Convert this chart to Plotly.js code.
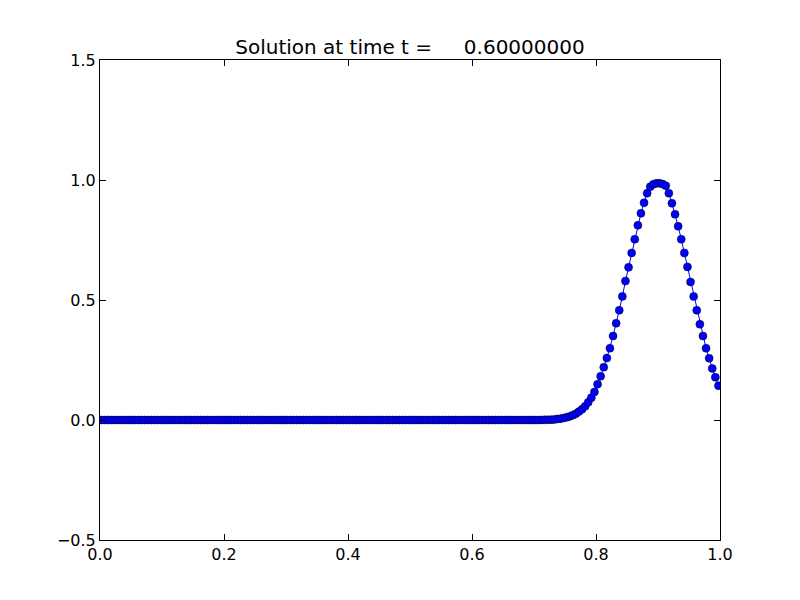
<!DOCTYPE html>
<html>
<head>
<meta charset="utf-8">
<script src="https://cdn.plot.ly/plotly-3.0.1.min.js"></script>
<style>html,body{margin:0;padding:0;background:#fff;}#chart{width:800px;height:600px;}</style>
</head>
<body>
<div id="chart"></div>
<script>
var xValues = [
0.0025,0.0075,0.0125,0.0175,0.0225,0.0275,0.0325,0.0375,0.0425,0.0475,
0.0525,0.0575,0.0625,0.0675,0.0725,0.0775,0.0825,0.0875,0.0925,0.0975,
0.1025,0.1075,0.1125,0.1175,0.1225,0.1275,0.1325,0.1375,0.1425,0.1475,
0.1525,0.1575,0.1625,0.1675,0.1725,0.1775,0.1825,0.1875,0.1925,0.1975,
0.2025,0.2075,0.2125,0.2175,0.2225,0.2275,0.2325,0.2375,0.2425,0.2475,
0.2525,0.2575,0.2625,0.2675,0.2725,0.2775,0.2825,0.2875,0.2925,0.2975,
0.3025,0.3075,0.3125,0.3175,0.3225,0.3275,0.3325,0.3375,0.3425,0.3475,
0.3525,0.3575,0.3625,0.3675,0.3725,0.3775,0.3825,0.3875,0.3925,0.3975,
0.4025,0.4075,0.4125,0.4175,0.4225,0.4275,0.4325,0.4375,0.4425,0.4475,
0.4525,0.4575,0.4625,0.4675,0.4725,0.4775,0.4825,0.4875,0.4925,0.4975,
0.5025,0.5075,0.5125,0.5175,0.5225,0.5275,0.5325,0.5375,0.5425,0.5475,
0.5525,0.5575,0.5625,0.5675,0.5725,0.5775,0.5825,0.5875,0.5925,0.5975,
0.6025,0.6075,0.6125,0.6175,0.6225,0.6275,0.6325,0.6375,0.6425,0.6475,
0.6525,0.6575,0.6625,0.6675,0.6725,0.6775,0.6825,0.6875,0.6925,0.6975,
0.7025,0.7075,0.7125,0.7175,0.7225,0.7275,0.7325,0.7375,0.7425,0.7475,
0.7525,0.7575,0.7625,0.7675,0.7725,0.7775,0.7825,0.7875,0.7925,0.7975,
0.8025,0.8075,0.8125,0.8175,0.8225,0.8275,0.8325,0.8375,0.8425,0.8475,
0.8525,0.8575,0.8625,0.8675,0.8725,0.8775,0.8825,0.8875,0.8925,0.8975,
0.9025,0.9075,0.9125,0.9175,0.9225,0.9275,0.9325,0.9375,0.9425,0.9475,
0.9525,0.9575,0.9625,0.9675,0.9725,0.9775,0.9825,0.9875,0.9925,0.9975
];

var qValues = [
0,0,0,0,0,0,0,0,0,0,
0,0,0,0,0,0,0,0,0,0,
0,0,0,0,0,0,0,0,0,0,
0,0,0,0,0,0,0,0,0,0,
0,0,0,0,0,0,0,0,0,0,
0,0,0,0,0,0,0,0,0,0,
0,0,0,0,0,0,0,0,0,0,
0,0,0,0,0,0,0,0,0,0,
0,0,0,0,0,0,0,0,0,0,
0,0,0,0,0,0,0,0,0,0,
0,0,0,0,0,0,0,0,0,0,
0,0,0,0,0,0,0,0,0,0,
0,0,0,0,0,0,0,0,0,0,
0,0,0,0,0,0,0,0,0,0,
0,0,0.0005,0.0008,0.001,0.0015,0.002,0.004,0.0055,0.008,
0.011,0.015,0.020,0.026,0.035,0.045,0.057,0.074,0.093,0.117,
0.149,0.182,0.220,0.258,0.299,0.350,0.403,0.457,0.515,0.579,
0.636,0.696,0.753,0.811,0.861,0.905,0.945,0.972,0.982,0.986,
0.986,0.983,0.976,0.945,0.903,0.857,0.807,0.753,0.696,0.638,
0.575,0.515,0.457,0.399,0.350,0.299,0.257,0.215,0.178,0.143
];

var xTicks = [0.0, 0.2, 0.4, 0.6, 0.8, 1.0];
var xTickLabels = ["0.0", "0.2", "0.4", "0.6", "0.8", "1.0"];
var yTicks = [-0.5, 0.0, 0.5, 1.0, 1.5];
var yTickLabels = ["\u22120.5", "0.0", "0.5", "1.0", "1.5"];
var titleText = "Solution at time t =\u00a0\u00a0\u00a0\u00a0\u00a00.60000000";

var trace = {
  x: xValues,
  y: qValues,
  type: "scatter",
  mode: "lines+markers",
  line: {color: "#0000ff", width: 1},
  marker: {color: "#0000ff", size: 8, line: {color: "#000000", width: 0.5}},
  hoverinfo: "skip"
};

var axisCommon = {
  showline: true, linecolor: "#000", linewidth: 1, mirror: "ticks",
  ticks: "inside", ticklen: 6, tickwidth: 1, tickcolor: "#000",
  showgrid: false, zeroline: false,
  tickfont: {family: "DejaVu Sans", size: 16, color: "#000"},
  tickmode: "array"
};

var layout = {
  width: 800, height: 600,
  margin: {l: 100, r: 80, t: 60, b: 60, pad: 0},
  paper_bgcolor: "#fff", plot_bgcolor: "#fff",
  showlegend: false,
  title: {text: titleText, font: {family: "DejaVu Sans", size: 20, color: "#000"},
          x: 0.5, xref: "paper", xanchor: "center", y: 0.922, yanchor: "middle"},
  xaxis: Object.assign({}, axisCommon, {range: [0, 1], tickvals: xTicks, ticktext: xTickLabels}),
  yaxis: Object.assign({}, axisCommon, {range: [-0.5, 1.5], tickvals: yTicks, ticktext: yTickLabels})
};

Plotly.newPlot("chart", [trace], layout, {displayModeBar: false, staticPlot: true});
</script>
</body>
</html>
